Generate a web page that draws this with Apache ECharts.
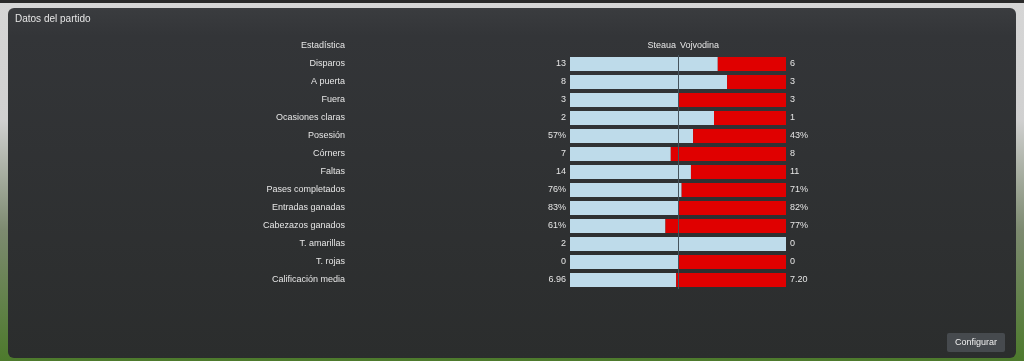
<!DOCTYPE html>
<html>
<head>
<meta charset="utf-8">
<script src="https://cdn.jsdelivr.net/npm/echarts@6/dist/echarts.min.js"></script>
<style>
html,body{margin:0;padding:0;width:1024px;height:361px;overflow:hidden;}
body{background:linear-gradient(to bottom,#2a2a2a 0px,#2a2a2a 3px,#d6d6d6 3px,#d0d0d0 120px,#7d8a70 230px,#4d7a2c 361px);}
#chart{width:1024px;height:361px;}
</style>
</head>
<body>
<div id="chart"></div>
<script>
const title = 'Datos del partido';
const statHeader = 'Estadística';
const homeTeam = 'Steaua';
const awayTeam = 'Vojvodina';
const categories = ['Disparos','A puerta','Fuera','Ocasiones claras','Posesión','Córners','Faltas','Pases completados','Entradas ganadas','Cabezazos ganados','T. amarillas','T. rojas','Calificación media'];
const homeValues = [13, 8, 3, 2, 57, 7, 14, 76, 83, 61, 2, 0, 6.96];
const awayValues = [6, 3, 3, 1, 43, 8, 11, 71, 82, 77, 0, 0, 7.20];
const isPercent = [false,false,false,false,true,false,false,true,true,true,false,false,false];
const decimals = [0,0,0,0,0,0,0,0,0,0,0,0,2];
const buttonText = 'Configurar';

function fmt(v, i) { return v.toFixed(decimals[i]) + (isPercent[i] ? '%' : ''); }
const homeText = homeValues.map(fmt);
const awayText = awayValues.map(fmt);
const homeShare = homeValues.map((h, i) => { const t = h + awayValues[i]; return t === 0 ? 0.5 : h / t; });
const awayShare = homeShare.map(s => 1 - s);

const FONT = '"Liberation Sans", Arial, sans-serif';
const TXT = '#e6e6e6';
const GRID = {left: 570, width: 216, top: 55, height: 234};

const chart = echarts.init(document.getElementById('chart'), null, {renderer: 'canvas'});
const catAxisBase = {
  type: 'category', inverse: true,
  axisLine: {show: false}, axisTick: {show: false}, splitLine: {show: false}
};
const baseGraphics = [
  {id: 'panel', type: 'rect', z: -10, shape: {x: 8, y: 8, width: 1008, height: 350, r: 6},
   style: {fill: new echarts.graphic.LinearGradient(0, 0, 0, 1, [
     {offset: 0, color: '#3a3c3f'}, {offset: 0.08, color: '#333538'}, {offset: 1, color: '#2b2d2d'}])}},
  {id: 'title', type: 'text', left: 15, top: 14, style: {text: title, fill: TXT, font: '10px ' + FONT}},
  {id: 'h1', type: 'text', x: 345, y: 46, style: {text: statHeader, fill: TXT, font: '9px ' + FONT, align: 'right', verticalAlign: 'middle'}},
  {id: 'h2', type: 'text', x: 676, y: 46, style: {text: homeTeam, fill: TXT, font: '9px ' + FONT, align: 'right', verticalAlign: 'middle'}},
  {id: 'h3', type: 'text', x: 680, y: 46, style: {text: awayTeam, fill: TXT, font: '9px ' + FONT, align: 'left', verticalAlign: 'middle'}},
  {id: 'btn', type: 'rect', shape: {x: 947, y: 333, width: 58, height: 19, r: 2}, style: {fill: '#464a4e'}},
  {id: 'btnt', type: 'text', x: 976, y: 343, style: {text: buttonText, fill: '#f0f0f0', font: '9px ' + FONT, align: 'center', verticalAlign: 'middle'}}
];
chart.setOption({
  animation: false,
  graphic: baseGraphics,
  grid: GRID,
  xAxis: {type: 'value', min: 0, max: 1, show: false},
  yAxis: [
    Object.assign({}, catAxisBase, {position: 'left', data: homeText,
      axisLabel: {color: TXT, fontSize: 9, fontFamily: FONT, margin: 4}}),
    Object.assign({}, catAxisBase, {position: 'left', offset: 217, data: categories,
      axisLabel: {color: TXT, fontSize: 9, fontFamily: FONT, margin: 8}}),
    Object.assign({}, catAxisBase, {position: 'right', data: awayText,
      axisLabel: {color: TXT, fontSize: 9, fontFamily: FONT, margin: 4}})
  ],
  series: [
    {name: homeTeam, type: 'bar', stack: 'total', yAxisIndex: 0, barWidth: 14,
     itemStyle: {color: '#bedbea'}, data: homeShare},
    {name: awayTeam, type: 'bar', stack: 'total', yAxisIndex: 0, barWidth: 14,
     itemStyle: {color: '#e00000'}, data: awayShare}
  ]
});
// mid line at 50% through the chart's own x scale
const midX = Math.round(chart.convertToPixel({xAxisIndex: 0}, 0.5));
chart.setOption({graphic: [
  {id: 'mid', type: 'rect', z: 100, shape: {x: midX, y: GRID.top, width: 1, height: GRID.height},
   style: {fill: '#46535c', stroke: null}}
]});
</script>
</body>
</html>
